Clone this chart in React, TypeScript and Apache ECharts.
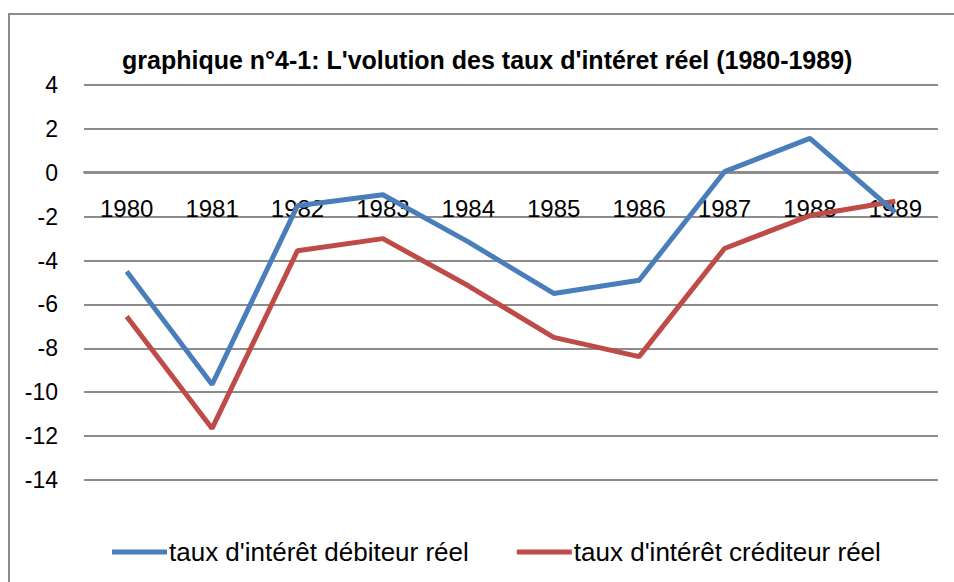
import React, { useEffect, useRef } from "react";
import * as echarts from "echarts";

const years = ["1980", "1981", "1982", "1983", "1984", "1985", "1986", "1987", "1988", "1989"];
const debiteur = [-4.5, -9.65, -1.5, -1.0, -3.15, -5.5, -4.9, 0.05, 1.57, -1.8];
const crediteur = [-6.55, -11.65, -3.55, -3.0, -5.15, -7.5, -8.38, -3.45, -1.95, -1.3];
const titleText = "graphique n°4-1: L'volution des taux d'intéret réel (1980-1989)";
const seriesNames = ["taux d'intérêt débiteur réel", "taux d'intérêt créditeur réel"];

const FONT = "Liberation Sans, Arial, sans-serif";

export default function App() {
  const ref = useRef<HTMLDivElement>(null);
  useEffect(() => {
    if (!ref.current) return;
    const chart = echarts.init(ref.current, null, { renderer: "svg" });
    chart.setOption({
      animation: false,
      backgroundColor: "#ffffff",
      title: {
        text: titleText,
        left: 117,
        top: 42,
        textStyle: { fontFamily: FONT, fontSize: 25, fontWeight: "bold", color: "#000" },
      },
      graphic: [
        {
          type: "rect",
          shape: { x: 9, y: 14, width: 960, height: 600 },
          style: { fill: "none", stroke: "#8c8c8c", lineWidth: 2 },
          silent: true,
        },
      ],
      legend: {
        left: 107,
        top: 534,
        itemWidth: 55,
        itemHeight: 14,
        itemGap: 48,
        textStyle: { fontFamily: FONT, fontSize: 26, color: "#000", padding: [0, 0, 0, -3] },
        data: [
          { name: seriesNames[0], icon: "path://M0,5 L55,5 L55,10 L0,10 Z" },
          { name: seriesNames[1], icon: "path://M0,5 L55,5 L55,10 L0,10 Z" },
        ],
      },
      grid: { left: 84, right: 16, top: 85, bottom: 102, containLabel: false },
      xAxis: {
        type: "category",
        data: years,
        boundaryGap: true,
        position: "bottom",
        offset: -308,
        axisLine: { show: true, onZero: false, lineStyle: { color: "#8c8c8c", width: 2 } },
        axisTick: { show: false },
        axisLabel: { fontFamily: FONT, fontSize: 24, color: "#000", margin: 24 },
        splitLine: { show: false },
      },
      yAxis: {
        type: "value",
        min: -14,
        max: 4,
        interval: 2,
        axisLine: { show: false },
        axisTick: { show: false },
        axisLabel: { fontFamily: FONT, fontSize: 23, color: "#000", margin: 26 },
        splitLine: { show: true, lineStyle: { color: "#8c8c8c", width: 2 } },
      },
      series: [
        {
          name: seriesNames[0],
          type: "line",
          data: debiteur,
          symbol: "none",
          color: "#4A7EBB",
          lineStyle: { color: "#4A7EBB", width: 5 },
          z: 3,
        },
        {
          name: seriesNames[1],
          type: "line",
          data: crediteur,
          symbol: "none",
          color: "#BE4B48",
          lineStyle: { color: "#BE4B48", width: 5 },
          z: 2,
        },
      ],
    });
    return () => chart.dispose();
  }, []);
  return (
    <div
      ref={ref}
      style={{ position: "fixed", left: 0, top: 0, width: 954, height: 582 }}
    />
  );
}
